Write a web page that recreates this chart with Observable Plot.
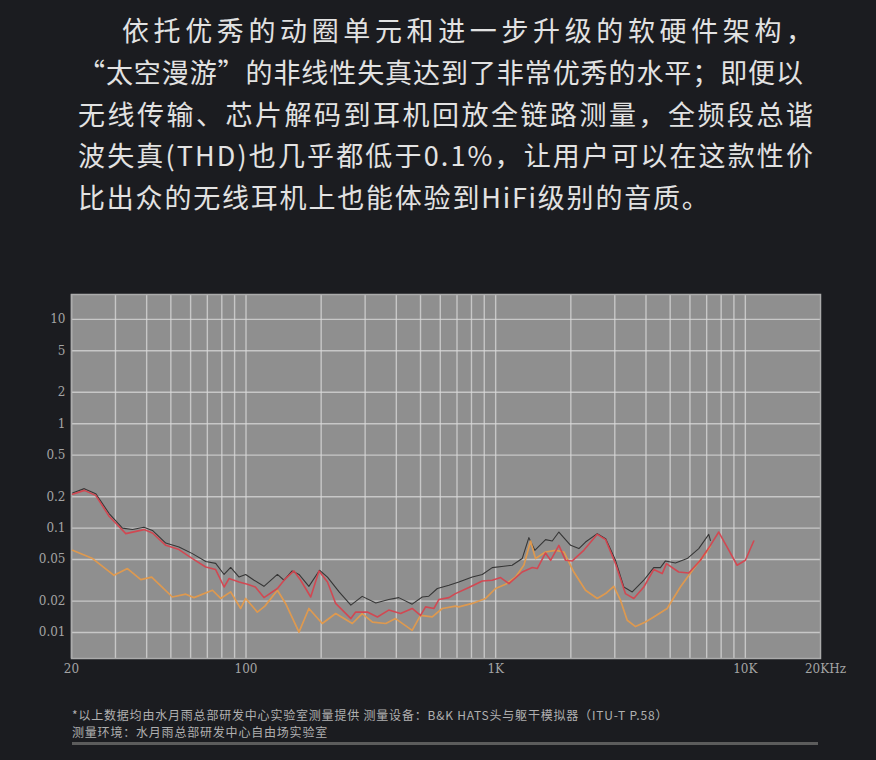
<!DOCTYPE html>
<html><head><meta charset="utf-8">
<script src="https://cdn.jsdelivr.net/npm/d3@7"></script>
<script src="https://cdn.jsdelivr.net/npm/@observablehq/plot@0.6"></script>
<style>
html,body{margin:0;padding:0;background:#1b1c20;width:876px;height:760px;overflow:hidden;}
#title{position:absolute;left:78px;top:9px;width:760px;color:#e2e2e2;font-family:"Noto Sans CJK SC";font-size:27px;letter-spacing:1.8px;line-height:41.8px;}
#title div{white-space:nowrap;}
#chart{position:absolute;left:0;top:280px;}
#note{position:absolute;left:72px;top:706px;color:#b0b0b0;font-family:"Noto Sans CJK SC";font-size:12px;line-height:17px;letter-spacing:0.8px;white-space:nowrap;}
#rule{position:absolute;left:72px;top:742px;width:746px;height:3px;background:#5c5c5c;}
</style></head>
<body>
<div id="title"></div>
<div id="chart"></div>
<div id="note"></div>
<div id="rule"></div>
<script>
const titleLines = [
  "依托优秀的动圈单元和进一步升级的软硬件架构，",
  "“太空漫游”的非线性失真达到了非常优秀的水平；即便以",
  "无线传输、芯片解码到耳机回放全链路测量，全频段总谐",
  "波失真(THD)也几乎都低于0.1%，让用户可以在这款性价",
  "比出众的无线耳机上也能体验到HiFi级别的音质。"
];
const noteLines = [
  "*以上数据均由水月雨总部研发中心实验室测量提供  测量设备：B&K HATS头与躯干模拟器（ITU-T P.58）",
  "测量环境：水月雨总部研发中心自由场实验室"
];

const xTicks = [20, 100, 1000, 10000];
const xTickLabels = ["20", "100", "1K", "10K"];
const xEndLabel = "20KHz";
const xGrid = [20,30,40,50,60,70,80,90,100,200,300,400,500,600,700,800,900,1000,2000,3000,4000,5000,6000,7000,8000,9000,10000];
const yTicks = [10, 5, 2, 1, 0.5, 0.2, 0.1, 0.05, 0.02, 0.01];

const blackFreq = [20.2,22.5,25,28.3,32,35.1,39,42.2,47.7,53.9,61,69,75.6,81.7,86.8,93.8,99.7,107.7,118,133.6,142,153,163,178.6,197,212,236,263,292,331,373,409,463,508,540,584,650,712,806,884,969,1078,1164,1277,1358,1435,1584,1685,1791,1996,2154,2290,2552,2756,3020,3260,3524,3920,4296,4570,4786,5248,5848,6506,7136,7244];
const blackThd = [0.217,0.239,0.214,0.138,0.100,0.097,0.102,0.095,0.072,0.066,0.057,0.048,0.046,0.036,0.042,0.034,0.036,0.0317,0.0277,0.036,0.0317,0.0389,0.036,0.0277,0.0395,0.034,0.0245,0.0183,0.0222,0.0192,0.0207,0.0216,0.0187,0.0219,0.0223,0.0264,0.0284,0.0305,0.034,0.036,0.0419,0.0431,0.0441,0.0511,0.0811,0.0613,0.0776,0.0753,0.0918,0.0684,0.0637,0.0736,0.0886,0.0794,0.0492,0.0273,0.0245,0.0317,0.0419,0.0419,0.0485,0.0463,0.0511,0.0637,0.0872,0.0764];

const redFreq = [20.2,22.5,25,28.3,33,39,42.2,47.7,53.9,61,69,75.6,81.7,85.5,93.8,101.3,109,118,133.6,144,155.6,165.6,181.6,196,212,228.6,263,275,306,336,373,416,463,500,524,566,592,650,690,781,884,969,1046,1130,1277,1402,1468,1584,1660,1791,1906,2026,2254,2552,2756,3020,3308,3574,3920,4296,4646,4830,5408,5930,6608,7244,7826,8454,9268,10006,10806];
const redThd = [0.211,0.230,0.206,0.130,0.0886,0.0968,0.0898,0.0684,0.0623,0.0511,0.0424,0.0401,0.0273,0.0329,0.0305,0.0290,0.0273,0.0216,0.0264,0.0329,0.0389,0.0317,0.0219,0.0389,0.0305,0.0190,0.0136,0.0157,0.0157,0.0141,0.0164,0.0152,0.0170,0.0146,0.0176,0.0170,0.0207,0.0216,0.0236,0.0270,0.0312,0.0317,0.0336,0.0294,0.0380,0.0419,0.0410,0.0578,0.0492,0.0684,0.0492,0.0485,0.0613,0.0872,0.0776,0.0457,0.0236,0.0212,0.0273,0.0401,0.0367,0.0457,0.0380,0.0372,0.0492,0.0684,0.0918,0.0659,0.0441,0.0492,0.0753];

const orangeFreq = [20.2,24.3,29.6,33.5,37.9,41.9,50.7,57.4,61.9,73.4,79.2,86.8,95.2,99.7,111,119,133.6,144,163,178.6,202,228.6,266.6,292,321,363,397,463,500,557,611,690,712,806,911,999,1096,1201,1297,1380,1444,1584,1737,1876,2056,2290,2552,2756,2972,3162,3364,3632,3980,4296,4862,5492,6216,6918,7244];
const orangeThd = [0.0613,0.0511,0.0353,0.0410,0.0321,0.0340,0.0219,0.0233,0.0216,0.0254,0.0212,0.0245,0.0170,0.0212,0.0157,0.0179,0.0254,0.0190,0.0101,0.0170,0.0122,0.0152,0.0122,0.0152,0.0126,0.0122,0.0136,0.0105,0.0146,0.0141,0.0170,0.0179,0.0176,0.0190,0.0212,0.0264,0.0290,0.0340,0.0441,0.0753,0.0511,0.0591,0.0613,0.0591,0.0380,0.0254,0.0212,0.0236,0.0277,0.0204,0.0131,0.0114,0.0126,0.0141,0.0170,0.0273,0.0410,0.0570,0.0670];

// Title: lines 1-4 end near a common right edge, the last line is set naturally
const titleEl = document.getElementById("title");
const lineWidths = [691, 725, 735, 735];
const firstIndent = 44;
titleLines.forEach((t, i) => {
  const div = document.createElement("div");
  const span = document.createElement("span");
  span.textContent = t;
  div.appendChild(span);
  if (i === 0) div.style.paddingLeft = firstIndent + "px";
  titleEl.appendChild(div);
  if (i < lineWidths.length) {
    span.style.letterSpacing = "1px";
    const w1 = span.getBoundingClientRect().width;
    span.style.letterSpacing = "2px";
    const w2 = span.getBoundingClientRect().width;
    const slope = w2 - w1;
    const ls = (lineWidths[i] - w1 + slope) / (slope - 1);
    span.style.letterSpacing = ls.toFixed(3) + "px";
  }
});
document.getElementById("note").innerHTML = noteLines.map(t => `<div>${t.replace(/&/g, "&amp;")}</div>`).join("");

const rows = (f, v) => f.map((d, i) => ({f: d, v: v[i]}));
const yMin = 0.00564, yMax = 17.3;
const tickColor = "#a4a4a4";

const chart = Plot.plot({
  width: 876, height: 410,
  marginLeft: 71, marginRight: 56, marginTop: 14, marginBottom: 32,
  style: {background: "transparent", fontFamily: "DejaVu Serif", fontSize: "12px", color: tickColor, overflow: "visible"},
  x: {type: "log", domain: [20, 20000], axis: null},
  y: {type: "log", domain: [yMin, yMax], axis: null},
  marks: [
    Plot.frame({fill: "#8f8f8f"}),
    Plot.gridX(xGrid, {stroke: "#dadada", strokeOpacity: 0.75, strokeWidth: 1.4}),
    Plot.gridY(yTicks, {stroke: "#dadada", strokeOpacity: 0.75, strokeWidth: 1.4}),
    Plot.frame({stroke: "#ababab", strokeWidth: 1.5}),
    Plot.line(rows(blackFreq, blackThd), {x: "f", y: "v", stroke: "#363636", strokeWidth: 1.1}),
    Plot.line(rows(orangeFreq, orangeThd), {x: "f", y: "v", stroke: "#e39a4c", strokeWidth: 1.7, strokeOpacity: 0.95}),
    Plot.line(rows(redFreq, redThd), {x: "f", y: "v", stroke: "#d5454f", strokeWidth: 1.6, strokeOpacity: 0.95}),
    Plot.text(xTicks, {x: d => d, text: (d, i) => xTickLabels[i], frameAnchor: "bottom", dy: 14, fill: tickColor, fontSize: 12}),
    Plot.text([xEndLabel], {x: () => 20000, text: d => d, frameAnchor: "bottom", dy: 14, dx: 5, fill: tickColor, fontSize: 12}),
    Plot.text(yTicks, {y: d => d, text: d => String(d), frameAnchor: "left", textAnchor: "end", dx: -6, fill: tickColor, fontSize: 12})
  ]
});
document.getElementById("chart").appendChild(chart);
</script>
</body></html>
